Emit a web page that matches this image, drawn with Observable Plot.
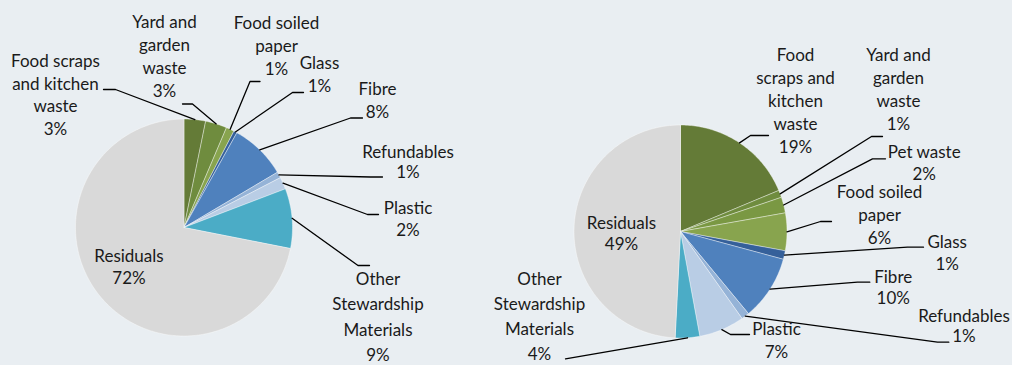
<!DOCTYPE html>
<html><head><meta charset="utf-8">
<script src="https://cdn.jsdelivr.net/npm/d3@7"></script>
<script src="https://cdn.jsdelivr.net/npm/@observablehq/plot@0.6"></script>
<style>html,body{margin:0;padding:0;background:#E9EEF2;overflow:hidden}</style>
</head><body><div id="chart"></div>
<script>
// ---- data ----
const categories = [
  "Food scraps and kitchen waste", "Yard and garden waste", "Pet waste",
  "Food soiled paper", "Glass", "Fibre", "Refundables", "Plastic",
  "Other Stewardship Materials", "Residuals"
];
const leftValues  = [3.2, 3.2, 0, 1.2, 0.5, 8.4, 0.9, 1.8, 8.9, 71.9];
const rightValues = [18.7, 1.1, 2.4, 5.7, 1.3, 9.8, 1.2, 6.9, 3.7, 49.2];
const sliceColors = ["#647B37", "#6F8C3E", "#7A9843", "#88A44E", "#35609A",
                     "#4F81BD", "#95B3D7", "#B9CDE5", "#4BACC6", "#D9D9D9"];

// ---- layout (label placement, pixels) ----
const leftLayout = {
  cx: 183.5, cy: 227, r: 108.5,
  labels: {
    "Food scraps and kitchen waste": {lines: ["Food scraps", "and kitchen", "waste"], x: 55, y: 61, lh: 22.7, leader: [[115, 89], [103, 89]]},
    "Yard and garden waste": {lines: ["Yard and", "garden", "waste"], x: 164, y: 22.5, lh: 23, leader: [[192, 103.5], [182, 103.5]]},
    "Food soiled paper": {lines: ["Food soiled", "paper"], x: 276, y: 23, lh: 23, leader: [[249.5, 81], [259.5, 81]]},
    "Glass": {lines: ["Glass"], x: 319, y: 63.5, lh: 22.5, leader: [[292, 92], [303, 92]]},
    "Fibre": {lines: ["Fibre"], x: 377, y: 89.5, lh: 23, leader: [[350, 117.5], [362, 117.5]]},
    "Refundables": {lines: ["Refundables"], x: 407.5, y: 152, lh: 20, leader: [[370, 176.5], [382, 176.5]]},
    "Plastic": {lines: ["Plastic"], x: 407.5, y: 208, lh: 22.5, leader: [[367, 214], [378, 214]]},
    "Other Stewardship Materials": {lines: ["Other", "Stewardship", "Materials"], x: 377.5, y: 279, lh: 25.3, leader: [[357.5, 265], [369, 265]]},
    "Residuals": {lines: ["Residuals"], x: 128.5, y: 256, lh: 22.5, leader: null}
  }
};
const rightLayout = {
  cx: 680, cy: 231, r: 106.5,
  labels: {
    "Food scraps and kitchen waste": {lines: ["Food", "scraps and", "kitchen", "waste"], x: 795, y: 55, lh: 23, leader: [[750, 135], [768, 135]]},
    "Yard and garden waste": {lines: ["Yard and", "garden", "waste"], x: 898, y: 55, lh: 23.1, leader: [[871, 136], [882, 136]]},
    "Pet waste": {lines: ["Pet waste"], x: 923.7, y: 152.3, lh: 22, leader: [[872, 158.3], [885, 158.3]]},
    "Food soiled paper": {lines: ["Food soiled", "paper"], x: 879, y: 191.7, lh: 23.3, leader: [[820, 221], [831, 221]]},
    "Glass": {lines: ["Glass"], x: 946.7, y: 241.7, lh: 22.3, leader: [[907, 246.7], [923, 246.7]]},
    "Fibre": {lines: ["Fibre"], x: 892.7, y: 276.7, lh: 21, leader: [[857, 281.7], [869.3, 281.7]]},
    "Refundables": {lines: ["Refundables"], x: 963.5, y: 316.5, lh: 20, leader: [[937, 341.7], [948.3, 341.7]]},
    "Plastic": {lines: ["Plastic"], x: 776, y: 329.3, lh: 22.4, leader: [[730, 334], [749, 334]]},
    "Other Stewardship Materials": {lines: ["Other", "Stewardship", "Materials"], x: 539, y: 279, lh: 25, leader: [[565, 358.3]]},
    "Residuals": {lines: ["Residuals"], x: 621, y: 222.7, lh: 21.3, leader: null}
  }
};

// ---- build geometry ----
const slicePts = [], leaderPts = [], textRows = [];
function buildPie(values, layout, pid) {
  const {cx, cy, r} = layout;
  const total = d3.sum(values);
  let acc = 0;
  values.forEach((v, i) => {
    if (!v) return;
    const a0 = acc / total * 2 * Math.PI;
    acc += v;
    const a1 = acc / total * 2 * Math.PI;
    const key = pid + "-" + i;
    const color = sliceColors[i];
    const n = Math.max(2, Math.ceil((a1 - a0) / (Math.PI / 180)));
    slicePts.push({key, x: cx, y: cy, color});
    for (let k = 0; k <= n; k++) {
      const a = a0 + (a1 - a0) * k / n;
      slicePts.push({key, x: cx + r * Math.sin(a), y: cy - r * Math.cos(a), color});
    }
    slicePts.push({key, x: cx, y: cy, color});
    const lab = layout.labels[categories[i]];
    if (!lab) return;
    const am = (a0 + a1) / 2;
    if (lab.leader) {
      leaderPts.push({key, x: cx + r * Math.sin(am), y: cy - r * Math.cos(am)});
      lab.leader.forEach(([x, y]) => leaderPts.push({key, x, y}));
    }
    const lines = [...lab.lines, Math.round(v) + "%"];
    lines.forEach((t, j) => textRows.push({x: lab.x, y: lab.y + j * lab.lh, text: t}));
  });
}
buildPie(leftValues, leftLayout, "L");
buildPie(rightValues, rightLayout, "R");

const chart = Plot.plot({
  width: 1012, height: 365, margin: 0,
  x: {domain: [0, 1012], range: [0, 1012], axis: null},
  y: {domain: [0, 365], range: [0, 365], axis: null},
  color: {type: "identity"},
  style: {background: "#E9EEF2", fontFamily: "Lato, sans-serif"},
  marks: [
    Plot.line(slicePts, {x: "x", y: "y", z: "key", fill: "color", stroke: "white", strokeOpacity: 0.55, strokeWidth: 0.7, curve: "linear"}),
    Plot.line(leaderPts, {x: "x", y: "y", z: "key", stroke: "#000", strokeWidth: 1.3, curve: "linear"}),
    Plot.text(textRows, {x: "x", y: "y", text: "text", fontSize: 17, fill: "#1a1a1a", fontFamily: "Lato, sans-serif"})
  ]
});
document.getElementById("chart").appendChild(chart);
</script>
</body></html>
